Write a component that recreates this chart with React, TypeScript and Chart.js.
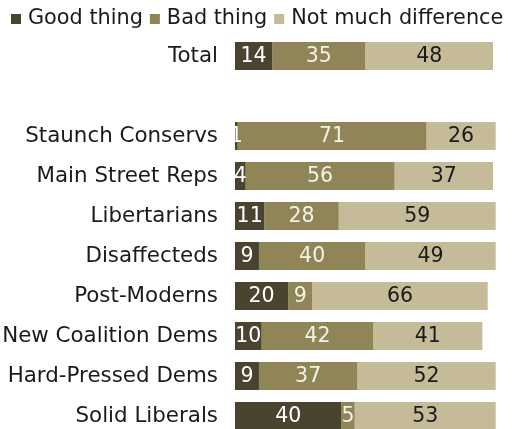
import React, { useEffect, useRef } from "react";
import { Chart, registerables } from "chart.js";

Chart.register(...registerables);

const categories = [
  "Total",
  "",
  "Staunch Conservs",
  "Main Street Reps",
  "Libertarians",
  "Disaffecteds",
  "Post-Moderns",
  "New Coalition Dems",
  "Hard-Pressed Dems",
  "Solid Liberals",
];
const goodThing = [14, null, 1, 4, 11, 9, 20, 10, 9, 40];
const badThing = [35, null, 71, 56, 28, 40, 9, 42, 37, 5];
const notMuch = [48, null, 26, 37, 59, 49, 66, 41, 52, 53];
const seriesNames = ["Good thing", "Bad thing", "Not much difference"];
const seriesColors = ["#4a4330", "#8f8557", "#c5bb99"];
const labelColors = ["#ffffff", "#f4f1e6", "#1a1a1a"];

const FONT = "'DejaVu Sans', Verdana, sans-serif";

const valueLabels = {
  id: "valueLabels",
  afterDatasetsDraw(chart: any) {
    const ctx = chart.ctx;
    ctx.save();
    ctx.font = `20.5px ${FONT}`;
    ctx.textAlign = "center";
    ctx.textBaseline = "middle";
    chart.data.datasets.forEach((ds: any, di: number) => {
      const meta = chart.getDatasetMeta(di);
      meta.data.forEach((bar: any, i: number) => {
        const v = ds.data[i];
        if (v === null || v === undefined) return;
        const cx = (bar.x + bar.base) / 2;
        ctx.fillStyle = labelColors[di];
        ctx.fillText(String(v), cx, bar.y + 1);
      });
    });
    ctx.restore();
  },
};

const customLegend = {
  id: "customLegend",
  afterDraw(chart: any) {
    const ctx = chart.ctx;
    ctx.save();
    ctx.font = `20.8px ${FONT}`;
    ctx.textBaseline = "middle";
    ctx.textAlign = "left";
    let x = 11;
    const cy = 19;
    chart.data.datasets.forEach((ds: any, i: number) => {
      ctx.fillStyle = seriesColors[i];
      ctx.fillRect(x, cy - 5, 10, 10);
      x += 10 + 7;
      ctx.fillStyle = "#1a1a1a";
      ctx.fillText(ds.label, x, cy);
      x += ctx.measureText(ds.label).width + 7;
    });
    ctx.restore();
  },
};

export default function App() {
  const ref = useRef<HTMLCanvasElement | null>(null);
  useEffect(() => {
    if (!ref.current) return;
    const chart = new Chart(ref.current, {
      type: "bar",
      data: {
        labels: categories,
        datasets: [goodThing, badThing, notMuch].map((d, i) => ({
          label: seriesNames[i],
          data: d as any,
          backgroundColor: seriesColors[i],
          borderWidth: 0,
          categoryPercentage: 1,
          barPercentage: 0.7,
        })),
      },
      options: {
        indexAxis: "y",
        responsive: false,
        animation: false,
        layout: { padding: { left: 0, right: 11, top: 36, bottom: 4 } },
        plugins: {
          tooltip: { enabled: false },
          legend: { display: false },
        },
        scales: {
          x: {
            stacked: true,
            min: 0,
            max: 100,
            display: false,
          },
          y: {
            stacked: true,
            grid: { display: false },
            border: { display: false },
            ticks: {
              color: "#1a1a1a",
              padding: 9,
              font: { family: FONT, size: 21.4 },
              autoSkip: false,
            },
            afterFit: (s: any) => {
              s.width = 235;
              s.paddingTop = 0;
              s.paddingBottom = 0;
            },
          },
        },
      },
      plugins: [valueLabels, customLegend],
    });
    return () => chart.destroy();
  }, []);
  return (
    <div
      style={{
        position: "absolute",
        left: 0,
        top: 0,
        width: 512,
        height: 429,
        overflow: "hidden",
        background: "#fff",
      }}
    >
      <canvas ref={ref} width={512} height={440} />
    </div>
  );
}
